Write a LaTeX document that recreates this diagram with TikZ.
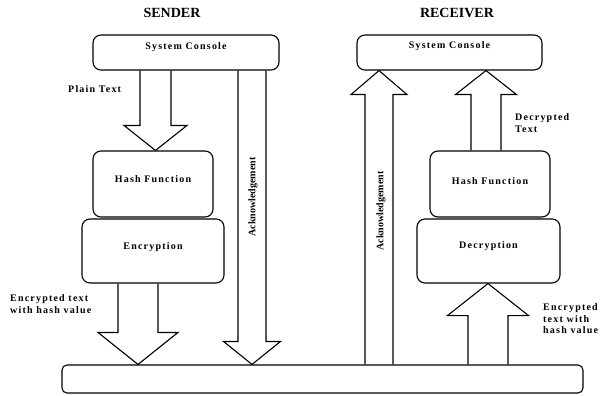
\documentclass[tikz,border=0pt]{standalone}
\usepackage{fontspec}
\setmainfont{Liberation Serif}
\newfontfamily\lblfont{Liberation Serif}[LetterSpace=12]
\usetikzlibrary{calc}
\tikzset{
  box/.style={draw, line width=1.1pt, rounded corners=8pt, inner sep=0pt},
  blk/.style={draw, line width=1.1pt, line join=miter},
  lbl/.style={font=\lblfont\bfseries\fontsize{10}{11.5}\selectfont, inner sep=0pt},
  ttl/.style={font=\bfseries\fontsize{14}{16}\selectfont, inner sep=0pt},
  ack/.style={font=\bfseries\fontsize{10}{12}\selectfont, inner sep=0pt, rotate=90},
}
% #1 x, #2 start anchor, #3 tip anchor, #4 shaft half width, #5 head half width, #6 head base offset from tip
\newcommand{\vblock}[6]{%
  \coordinate (vbx) at (#1,0);
  \path (vbx |- #2) coordinate (vbS) (vbx |- #3) coordinate (vbT);
  \coordinate (vbH) at ($(vbT)+(0,#6)$);
  \draw[blk] ($(vbS)+(-#4,0)$) -- ($(vbH)+(-#4,0)$) -- ($(vbH)+(-#5,0)$) -- (vbT)
     -- ($(vbH)+(#5,0)$) -- ($(vbH)+(#4,0)$) -- ($(vbS)+(#4,0)$);
}
\begin{document}
\begin{tikzpicture}[x=1pt, y=-1pt]
\useasboundingbox (0,0) rectangle (603,396);
% titles
\node[ttl] (tsend) at (172,13) {SENDER};
\node[ttl] (trecv) at (457,13) {RECEIVER};
% boxes
\node[box, minimum width=186pt, minimum height=35pt] (con1) at (186,52.5) {};
\node[box, minimum width=120pt, minimum height=66pt] (hash1) at (153,184) {};
\node[box, minimum width=142pt, minimum height=64pt] (enc1) at (153,251) {};
\node[box, minimum width=185pt, minimum height=35pt] (con2) at (449.5,52.5) {};
\node[box, minimum width=120pt, minimum height=66pt] (hash2) at (490,184) {};
\node[box, minimum width=143pt, minimum height=64pt] (dec2) at (488.5,251) {};
\node[box, minimum width=521pt, minimum height=28pt, rounded corners=5pt] (bar) at (322.5,379) {};
% box texts
\node[lbl] (con1t) at (186,47) {System Console};
\node[lbl] (hash1t) at (153,179) {Hash Function};
\node[lbl] (enc1t) at (153,247) {Encryption};
\node[lbl] (con2t) at (449.5,46) {System Console};
\node[lbl] (hash2t) at (490,181) {Hash Function};
\node[lbl] (dec2t) at (488.5,246) {Decryption};
% block arrows
\vblock{155.5}{con1.south}{hash1.north}{15.5}{31.5}{-25}
\vblock{138}{enc1.south}{bar.north}{20}{40}{-32}
\vblock{252}{con1.south}{bar.north}{14}{28.5}{-23}
\vblock{379}{bar.north}{con2.south}{14}{28}{24}
\vblock{486}{hash2.north}{con2.south}{15}{30.5}{24}
\vblock{488}{bar.north}{dec2.south}{20}{40.5}{32}
% side labels
\node[lbl, anchor=west] (plain) at (68,89) {Plain Text};
\node[lbl, anchor=west, align=left] (enctxt1) at (10,304) {Encrypted text\\with hash value};
\node[lbl, anchor=west, align=left] (dectxt) at (515,123) {Decrypted\\Text};
\node[lbl, anchor=west, align=left] (enctxt2) at (543,319) {Encrypted\\text with\\hash value};
\node[ack] (ack1) at (253,197) {Acknowledgement};
\node[ack] (ack2) at (381,211) {Acknowledgement};
\end{tikzpicture}
\end{document}
